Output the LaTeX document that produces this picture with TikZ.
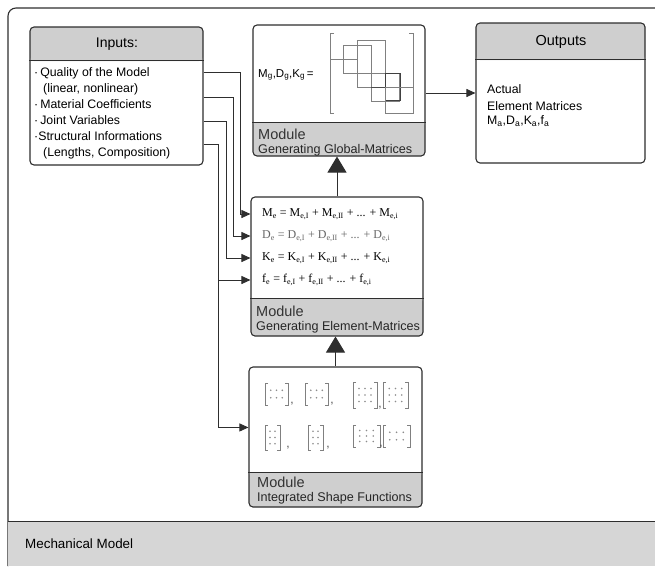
\documentclass[tikz,border=0pt]{standalone}
\usepackage{fontspec}
\setmainfont{Liberation Sans}
\newfontfamily\tms{Liberation Serif}
\usetikzlibrary{arrows.meta,calc}
\definecolor{hgray}{gray}{0.81}
\definecolor{bgray}{gray}{0.84}
\definecolor{lcol}{gray}{0.18}
\definecolor{mline}{gray}{0.5}
\definecolor{mdot}{gray}{0.55}
\tikzset{
  box/.style={draw=lcol, line width=1.1pt, rounded corners=4pt, inner sep=0pt, fill=white},
  headtop/.style={path picture={\fill[hgray] (path picture bounding box.north west) rectangle ([yshift=-#1]path picture bounding box.north east);}},
  headbot/.style={path picture={\fill[hgray] (path picture bounding box.south west) rectangle ([yshift=#1]path picture bounding box.south east);}},
  sepline/.style={draw=lcol, line width=1.1pt},
  conn/.style={draw=lcol, line width=0.9pt, -{Triangle[length=9pt,width=8pt]}},
  bigarr/.style={draw=lcol, line width=1pt, -{Triangle[length=16pt,width=19pt]}},
  lbl/.style={inner sep=0pt, anchor=base west, text=black},
  inlist/.style={lbl, font=\fontsize{12.3}{14}\selectfont},
  modA/.style={lbl, font=\fontsize{14.5}{16}\selectfont, text=black!80},
  modB/.style={lbl, font=\fontsize{12.6}{14}\selectfont, text=black!85},
  eqn/.style={inner sep=0pt, anchor=west, font=\tms\fontsize{12}{14}\selectfont},
  mat/.style={draw=mline, line width=0.9pt},
  comma/.style={inner sep=0pt, font=\fontsize{12}{14}\selectfont, text=black!70},
}
\newcommand{\shapemat}[6]{%
  \draw[mat, line width=0.8pt] ({#1+3},#2) -- (#1,#2) -- (#1,#4) -- ({#1+3},#4);
  \draw[mat, line width=0.8pt] ({#3-3},#2) -- (#3,#2) -- (#3,#4) -- ({#3-3},#4);
  \foreach \i in {1,...,#5}{\foreach \j in {1,...,#6}{%
    \fill[mdot] ({#1+(#3-#1)*\i/(#5+1)},{#2+(#4-#2)*\j/(#6+1)}) circle (0.9pt);}}%
}
\begin{document}
\begin{tikzpicture}[x=1pt,y=-1pt]
\useasboundingbox (0,0) rectangle (655,566);
% outer frame and bottom band
\draw[draw=lcol, line width=1.1pt, rounded corners=8pt] (8,566) -- (8,8) -- (655,8);
\fill[bgray] (8,521) rectangle (655,566);
\draw[draw=lcol, line width=1pt] (8,521) -- (655,521);
\node[lbl, font=\fontsize{13.4}{15}\selectfont] (mech) at (25,548) {Mechanical Model};

% Inputs box
\node[box, headtop=34pt, minimum width=173pt, minimum height=138pt] (in) at (116.5,96) {};
\draw[sepline] ([yshift=-34pt]in.north west) -- ([yshift=-34pt]in.north east);
\node[inner sep=0pt, font=\fontsize{14}{16}\selectfont] (inT) at (117,44) {Inputs:};
\node[inlist] (i1) at (34,76.5) {·\,Quality of the Model};
\node[inlist] (i2) at (43,92.5) {(linear, nonlinear)};
\node[inlist] (i3) at (34,108.5) {·\,Material Coefficients};
\node[inlist] (i4) at (34,124.5) {·\,Joint Variables};
\node[inlist] (i5) at (34,140.5) {·Structural Informations};
\node[inlist] (i6) at (43,156.5) {(Lengths, Composition)};

% Global matrices module
\node[box, headbot=34pt, minimum width=172pt, minimum height=131pt] (gl) at (339,90.5) {};
\draw[sepline] ([yshift=34pt]gl.south west) -- ([yshift=34pt]gl.south east);
\node[lbl, font=\fontsize{11.5}{13}\selectfont] (glM) at (258,77) {M\textsubscript{g},D\textsubscript{g},K\textsubscript{g}\,=};
\draw[mat] (334,33) -- (330,33) -- (330,113) -- (334,113);
\draw[mat] (409,33) -- (413,33) -- (413,113) -- (409,113);
\draw[mat] (343,45) rectangle (371,73);
\draw[mat] (357,40) rectangle (385,87);
\draw[mat] (330,59) -- (357,59);
\draw[mat] (371,73) rectangle (399,101);
\draw[mat, draw=black!75] (385,73) rectangle (400,100);
\draw[mat, draw=black!70] (371,87) -- (413,87);
\draw[mat] (385,87) rectangle (413,113);
\node[modA] (glm1) at (258,139.5) {Module};
\node[modB] (glm2) at (258,153.5) {Generating Global-Matrices};

% Outputs box
\node[box, headtop=37pt, minimum width=169pt, minimum height=140pt] (out) at (560.5,93) {};
\draw[sepline] ([yshift=-37pt]out.north west) -- ([yshift=-37pt]out.north east);
\node[inner sep=0pt, font=\fontsize{14.5}{16}\selectfont] (outT) at (561,42) {Outputs};
\node[inlist] (o1) at (487,93.5) {Actual};
\node[inlist] (o2) at (487,110) {Element Matrices};
\node[inlist] (o3) at (487,124.5) {M\textsubscript{a},D\textsubscript{a},K\textsubscript{a},f\textsubscript{a}};

% Element matrices module
\node[box, headbot=38pt, minimum width=172pt, minimum height=139pt] (el) at (337,266.5) {};
\draw[sepline] ([yshift=38pt]el.south west) -- ([yshift=38pt]el.south east);
\node[eqn] (eqM) at (262,214) {M\textsubscript{e} = M\textsubscript{e,I} + M\textsubscript{e,II} + ... + M\textsubscript{e,i}};
\node[eqn, text=black!60] (eqD) at (262,236) {D\textsubscript{e} = D\textsubscript{e,I} + D\textsubscript{e,II} + ... + D\textsubscript{e,i}};
\node[eqn] (eqK) at (262,258) {K\textsubscript{e} = K\textsubscript{e,I} + K\textsubscript{e,II} + ... + K\textsubscript{e,i}};
\node[eqn] (eqf) at (262,280) {f\textsubscript{e} = f\textsubscript{e,I} + f\textsubscript{e,II} + ... + f\textsubscript{e,i}};
\node[modA] (elm1) at (256,316) {Module};
\node[modB] (elm2) at (256,330) {Generating Element-Matrices};

% Shape functions module
\node[box, headbot=35pt, minimum width=173pt, minimum height=140pt] (sh) at (335.5,437) {};
\draw[sepline] ([yshift=35pt]sh.south west) -- ([yshift=35pt]sh.south east);
\shapemat{265}{383}{288}{405}{3}{2}
\node[comma] (k1) at (292,404) {,};
\shapemat{305}{383}{328}{405}{3}{2}
\node[comma] (k2) at (332,404) {,};
\shapemat{353}{382}{377}{408}{3}{3}
\node[comma] (k3) at (380,408) {,};
\shapemat{383}{382}{408}{408}{3}{3}
\shapemat{265}{425}{280}{450}{2}{3}
\node[comma] (k4) at (288,448) {,};
\shapemat{308}{425}{323}{450}{2}{3}
\node[comma] (k5) at (328,448) {,};
\shapemat{353}{425}{380}{447}{3}{3}
\node[comma] (k6) at (381,447) {,};
\shapemat{383}{425}{410}{447}{3}{2}
\node[modA] (shm1) at (257,487) {Module};
\node[modB] (shm2) at (257,501) {Integrated Shape Functions};

% connectors
\coordinate (j1) at ($(in.north east)+(37,46)$);
\coordinate (j2) at ($(in.north east)+(30,71)$);
\coordinate (j3) at ($(in.north east)+(23,95)$);
\coordinate (j4) at ($(in.north east)+(15,118)$);
\draw[conn] (in.east |- j1) -- (j1) |- (el.west |- eqM.west);
\draw[conn] (in.east |- j2) -- (j2) |- (el.west |- eqD.west);
\draw[conn] (in.east |- j3) -- (j3) |- (el.west |- eqK.west);
\draw[conn] (in.east |- j4) -- (j4) |- ($(sh.north west)+(0,61)$);
\draw[conn] (j4 |- eqf.west) -- (el.west |- eqf.west);
\draw[conn] (gl.east |- out.west) -- (out.west);
\draw[bigarr] (el.north) -- (el.north |- gl.south);
\draw[bigarr] (sh.north) -- (sh.north |- el.south);
\end{tikzpicture}
\end{document}
